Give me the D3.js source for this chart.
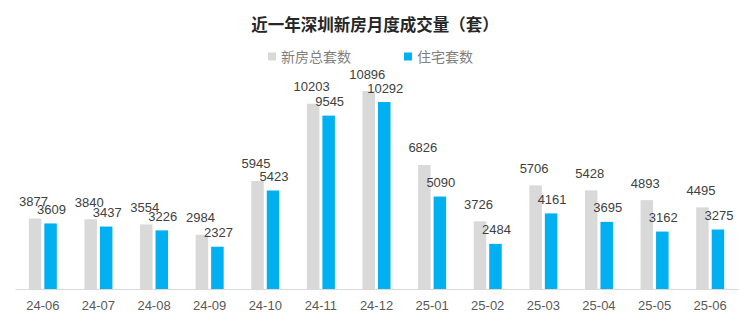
<!DOCTYPE html>
<html><head><meta charset="utf-8">
<script src="https://cdn.jsdelivr.net/npm/d3@7"></script>
<style>body{margin:0;background:#fff}svg{display:block}</style>
</head><body>
<svg id="c" width="740" height="327"></svg>
<script>
const months = ["24-06","24-07","24-08","24-09","24-10","24-11","24-12","25-01","25-02","25-03","25-04","25-05","25-06"];
const totalUnits = [3877,3840,3554,2984,5945,10203,10896,6826,3726,5706,5428,4893,4495];
const residentialUnits = [3609,3437,3226,2327,5423,9545,10292,5090,2484,4161,3695,3162,3275];
const seriesNames = ["新房总套数","住宅套数"];
const title = "近一年深圳新房月度成交量（套）";

const colors = ["#d9d9d9","#00b0f0"];
const svg = d3.select("#c");
const x = d3.scaleBand().domain(months).range([15, 738]).paddingInner(0).paddingOuter(0);
const y = d3.scaleLinear().domain([0, 12000]).range([289, 71]);
const bw = 12.5, gap = 1.5;
const fontNum = "'Liberation Sans', Arial, sans-serif";
const fontCJK = "'Noto Sans CJK SC', sans-serif";

svg.append("text").attr("x", 375).attr("y", 31).attr("text-anchor","middle")
  .attr("font-family", fontCJK).attr("font-weight","bold").attr("font-size",16.5).attr("fill","#262626").text(title);

// legend
const leg = [{x:268, name:seriesNames[0], c:colors[0]},{x:404, name:seriesNames[1], c:colors[1]}];
leg.forEach(l=>{
  svg.append("rect").attr("x",l.x).attr("y",52.5).attr("width",8).attr("height",8).attr("fill",l.c);
  svg.append("text").attr("x",l.x+13).attr("y",61.5).attr("font-family",fontCJK).attr("font-size",14)
    .attr("fill","#7f7f7f").text(l.name);
});

const cx = m => x(m) + x.bandwidth()/2;
const g = svg.append("g");
g.selectAll(".t").data(months).join("rect").attr("class","t")
  .attr("x", (m)=>cx(m)-gap-bw).attr("width", bw)
  .attr("y", (m,i)=>y(totalUnits[i])).attr("height",(m,i)=>y(0)-y(totalUnits[i]))
  .attr("fill", colors[0]);
g.selectAll(".r").data(months).join("rect").attr("class","r")
  .attr("x", (m)=>cx(m)+gap).attr("width", bw)
  .attr("y", (m,i)=>y(residentialUnits[i])).attr("height",(m,i)=>y(0)-y(residentialUnits[i]))
  .attr("fill", colors[1]);

// labels
g.selectAll(".tl").data(months).join("text").attr("class","tl")
  .attr("x",(m)=>cx(m)-gap-bw/2-1.5).attr("y",(m,i)=>y(totalUnits[i])-12.5)
  .attr("text-anchor","middle").attr("font-family",fontNum).attr("font-size",13).attr("fill","#404040")
  .text((m,i)=>totalUnits[i]);
g.selectAll(".rl").data(months).join("text").attr("class","rl")
  .attr("x",(m)=>cx(m)+gap+bw/2+1).attr("y",(m,i)=>y(residentialUnits[i])-9.5)
  .attr("text-anchor","middle").attr("font-family",fontNum).attr("font-size",13).attr("fill","#404040")
  .text((m,i)=>residentialUnits[i]);

// axis
const ax = svg.append("g").attr("transform","translate(0,289)").call(d3.axisBottom(x).tickSize(0).tickPadding(12));
ax.select(".domain").attr("stroke","#d9d9d9").attr("stroke-width",1.2);
ax.selectAll("text").attr("font-family",fontNum).attr("font-size",13).attr("fill","#595959");
</script>
</body></html>
